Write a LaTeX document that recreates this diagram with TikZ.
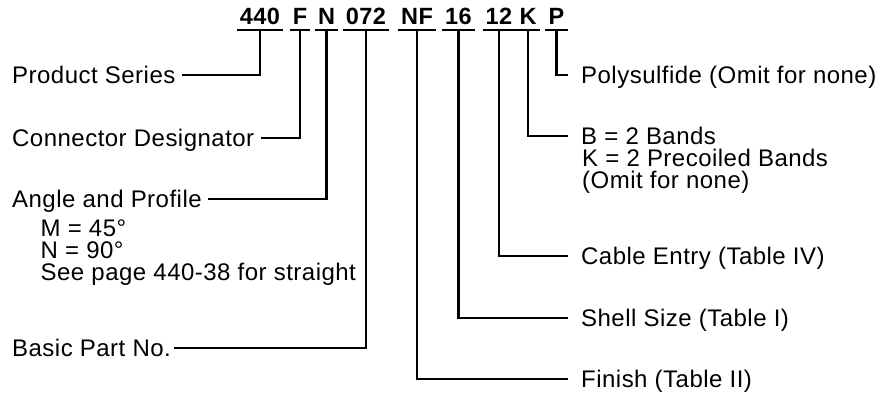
\documentclass[tikz,border=0pt]{standalone}
\usepackage{fontspec}
\setmainfont{Liberation Sans}[LetterSpace=2]

\begin{document}
\begin{tikzpicture}[x=1pt, y=-1pt,
	codigo/.style={font=\fontsize{23.5}{22}\selectfont\bfseries, anchor=base, inner xsep=3pt, inner ysep=5pt, text depth=0pt},
	rotulo/.style={font=\fontsize{24}{22}\selectfont, anchor=west, text height=17pt, text depth=0pt, inner ysep=0pt, inner xsep=6pt},
	rotulod/.style={rotulo, inner xsep=13pt},
	detalhe/.style={font=\fontsize{24}{21.7}\selectfont, anchor=base west, align=left, inner sep=0pt},
	linha/.style={line width=2.5pt}]

	\useasboundingbox (0,0) rectangle (891,396);

	\def\base{25};
	\def\esq{6};
	\def\dir{568};

	% numero de pedido
	\node[codigo] (n440) at (260,\base) {440};
	\node[codigo] (nF) at (300,\base) {F};
	\node[codigo] (nN) at (326.5,\base) {N};
	\node[codigo] (n072) at (366,\base) {072};
	\node[codigo] (nNF) at (417,\base) {NF};
	\node[codigo] (n16) at (458.5,\base) {16};
	\node[codigo] (n12) at (499,\base) {12};
	\node[codigo] (nK) at (528,\base) {K};
	\node[codigo] (nP) at (556.5,\base) {P};

	\foreach \n in {n440,nF,nN,n072,nNF,n16,n12,nK,nP}
		\draw[linha] (\n.south west) -- (\n.south east);

	% lado esquerdo
	\node[rotulo] (serie) at (\esq,75) {Product Series};
	\node[rotulo] (designador) at (\esq,138) {Connector Designator};
	\node[rotulo] (angulo) at (\esq,199) {Angle and Profile};
	\node[detalhe] (anguloinfo) at (40.5,280) {M = 45°\\N = 90°\\See page 440-38 for straight};
	\node[rotulo, inner xsep=3pt] (basico) at (9,348) {Basic Part No.};

	% lado direito
	\node[rotulod] (polissulfeto) at (\dir,75) {Polysulfide (Omit for none)};
	\node[rotulod] (bandas) at (\dir,136) {B = 2 Bands};
	\node[detalhe] (bandasinfo) at (582,188) {K = 2 Precoiled Bands\\(Omit for none)};
	\node[rotulod] (cabo) at (\dir,256) {Cable Entry (Table IV)};
	\node[rotulod] (casco) at (\dir,318) {Shell Size (Table I)};
	\node[rotulod] (acabamento) at (\dir,379) {Finish (Table II)};

	\draw[linha] (n440.south) |- (serie.east);
	\draw[linha] (nF.south) |- (designador.east);
	\draw[linha] (nN.south) |- (angulo.east);
	\draw[linha] (n072.south) |- (basico.east);
	\draw[linha] (nNF.south) |- (acabamento.west);
	\draw[linha] (n16.south) |- (casco.west);
	\draw[linha] (n12.south) |- (cabo.west);
	\draw[linha] (nK.south) |- (bandas.west);
	\draw[linha] (nP.south) |- (polissulfeto.west);

\end{tikzpicture}
\end{document}
